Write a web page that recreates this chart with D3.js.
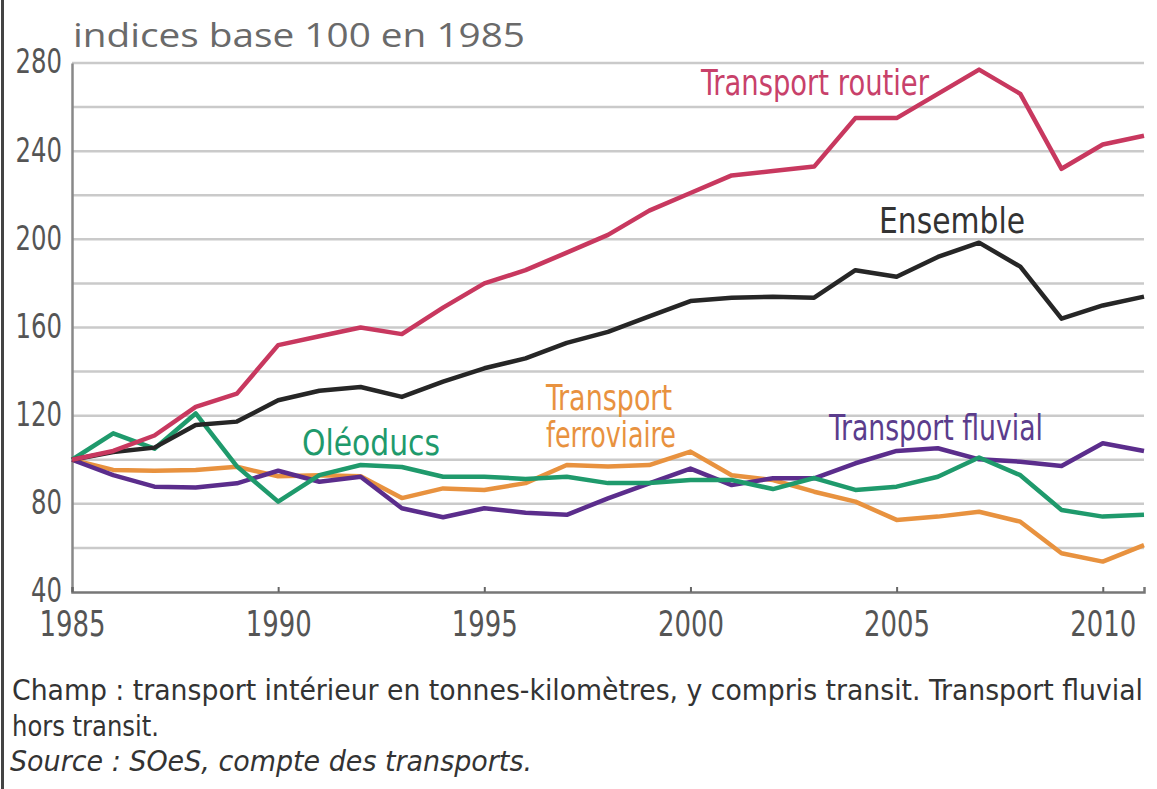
<!DOCTYPE html>
<html>
<head>
<meta charset="utf-8">
<script src="https://cdn.jsdelivr.net/npm/d3@7"></script>
<style>
  body { margin: 0; background: #fff; }
  svg text { font-family: "Liberation Sans Narrow", "DejaVu Sans Condensed", "DejaVu Sans", sans-serif; font-stretch: condensed; }
</style>
</head>
<body>
<svg id="chart" width="1157" height="789"></svg>
<script>
// data (indices base 100 en 1985)
var years = [1985,1986,1987,1988,1989,1990,1991,1992,1993,1994,1995,1996,1997,1998,1999,2000,2001,2002,2003,2004,2005,2006,2007,2008,2009,2010,2011];
var routier = [100,104,111,124,130,152,156,160,157,169,180,186,194,202,213,221,229,231,233,255,255,266,277,266,232,243,247];
var ensemble = [100,103.5,105.5,115.8,117.3,127,131.3,133,128.5,135.4,141.5,146,153,158,165,172,173.5,174,173.5,186,183,192,198.5,187.6,164,170,174];
var ferroviaire = [100,95.4,95,95.4,96.8,92.5,93,92.5,82.6,87,86.3,89.4,97.6,96.9,97.6,103.7,93,90.8,85.5,81,72.7,74.2,76.4,71.9,57.6,53.8,61.3];
var fluvial = [100,93,87.8,87.4,89.3,95,90,92.3,78,73.9,78,76,75,82.5,89.3,96,88.5,91.6,91.6,98.4,104,105.2,100.2,99.1,97.2,107.5,104];
var oleoducs = [100,112,105,121,97,81,93,97.6,96.7,92.3,92.3,91.3,92.3,89.4,89.4,90.8,90.8,86.7,91.7,86.3,87.8,92.3,101,93,77.2,74.2,75];

var yTicks = [40,80,120,160,200,240,280];
var gridValues = [60,80,100,120,140,160,180,200,220,240,260,280];
var xTicks = [1985,1990,1995,2000,2005,2010];

var series = [
  {name: "ferroviaire", values: ferroviaire, color: "#e8923f"},
  {name: "fluvial", values: fluvial, color: "#5b2d8c"},
  {name: "oleoducs", values: oleoducs, color: "#1f9a6c"},
  {name: "ensemble", values: ensemble, color: "#262626"},
  {name: "routier", values: routier, color: "#c8385f"}
];

var svg = d3.select("#chart");

var x = d3.scaleLinear().domain([1985, 2011]).range([72, 1144]);
var y = d3.scaleLinear().domain([40, 280]).range([592, 63]);

// frame line on the left
svg.append("line")
  .attr("x1", 2.5).attr("x2", 2.5).attr("y1", 0).attr("y2", 789)
  .attr("stroke", "#444").attr("stroke-width", 3);

// title
svg.append("text")
  .attr("x", 73).attr("y", 47)
  .attr("textLength", 452).attr("lengthAdjust", "spacingAndGlyphs")
  .style("font-family", "'Open Sans', 'Noto Sans', sans-serif")
  .style("font-stretch", "normal")
  .style("font-size", "33px")
  .attr("fill", "#6a6a6a")
  .text("indices base 100 en 1985");

// grid
svg.append("g").selectAll("line")
  .data(gridValues)
  .enter().append("line")
  .attr("x1", 72).attr("x2", 1144)
  .attr("y1", function(d) { return y(d); })
  .attr("y2", function(d) { return y(d); })
  .attr("stroke", "#cacaca").attr("stroke-width", 2.5);

// y axis
var yAxis = svg.append("g")
  .attr("transform", "translate(72,0)")
  .call(d3.axisLeft(y).tickValues(yTicks).tickSize(0).tickPadding(10));
yAxis.select(".domain").attr("stroke", "#888").attr("stroke-width", 2.5);
yAxis.selectAll("text")
  .style("font-size", "33px").attr("fill", "#555").attr("dy", "0.3em")
  .attr("textLength", function(d) { return String(d).length * 15.5; })
  .attr("lengthAdjust", "spacingAndGlyphs");

// x axis
var xAxis = svg.append("g")
  .attr("transform", "translate(0,592)")
  .call(d3.axisBottom(x).tickValues(xTicks).tickFormat(d3.format("d")).tickSize(-5).tickPadding(19));
xAxis.select(".domain").attr("stroke", "#777").attr("stroke-width", 2.5);
xAxis.selectAll(".tick line").attr("stroke", "#666").attr("stroke-width", 2);
xAxis.selectAll("text")
  .style("font-size", "35px").attr("fill", "#555").attr("dy", "0.71em")
  .attr("textLength", 66).attr("lengthAdjust", "spacingAndGlyphs");

// lines
var line = d3.line()
  .x(function(d, i) { return x(years[i]); })
  .y(function(d) { return y(d); });

svg.append("g").selectAll("path")
  .data(series)
  .enter().append("path")
  .attr("d", function(d) { return line(d.values); })
  .attr("fill", "none")
  .attr("stroke", function(d) { return d.color; })
  .attr("stroke-width", 4.5)
  .attr("stroke-linejoin", "round");

// line labels
var labels = [
  {text: "Transport routier", x: 701, y: 95, w: 228, color: "#c8416a"},
  {text: "Ensemble", x: 879, y: 233, w: 146, color: "#333"},
  {text: "Oléoducs", x: 302, y: 455, w: 138, color: "#1f9a6c"},
  {text: "Transport", x: 546, y: 410, w: 126, color: "#e8923f"},
  {text: "ferroviaire", x: 546, y: 447, w: 130, color: "#e8923f"},
  {text: "Transport fluvial", x: 829, y: 440, w: 214, color: "#5b3d8c"}
];
svg.append("g").selectAll("text")
  .data(labels)
  .enter().append("text")
  .attr("x", function(d) { return d.x; })
  .attr("y", function(d) { return d.y; })
  .attr("textLength", function(d) { return d.w; })
  .attr("lengthAdjust", "spacingAndGlyphs")
  .style("font-size", "35px")
  .attr("fill", function(d) { return d.color; })
  .text(function(d) { return d.text; });

// notes
var notes = svg.append("g").attr("fill", "#333").style("font-size", "29px");
notes.append("text").attr("x", 12).attr("y", 700)
  .attr("textLength", 1131).attr("lengthAdjust", "spacingAndGlyphs")
  .text("Champ : transport intérieur en tonnes-kilomètres, y compris transit. Transport fluvial");
notes.append("text").attr("x", 12).attr("y", 736)
  .attr("textLength", 147).attr("lengthAdjust", "spacingAndGlyphs")
  .text("hors transit.");
notes.append("text").attr("x", 10).attr("y", 771)
  .attr("textLength", 522).attr("lengthAdjust", "spacingAndGlyphs")
  .style("font-style", "italic")
  .text("Source : SOeS, compte des transports.");
</script>
</body>
</html>
